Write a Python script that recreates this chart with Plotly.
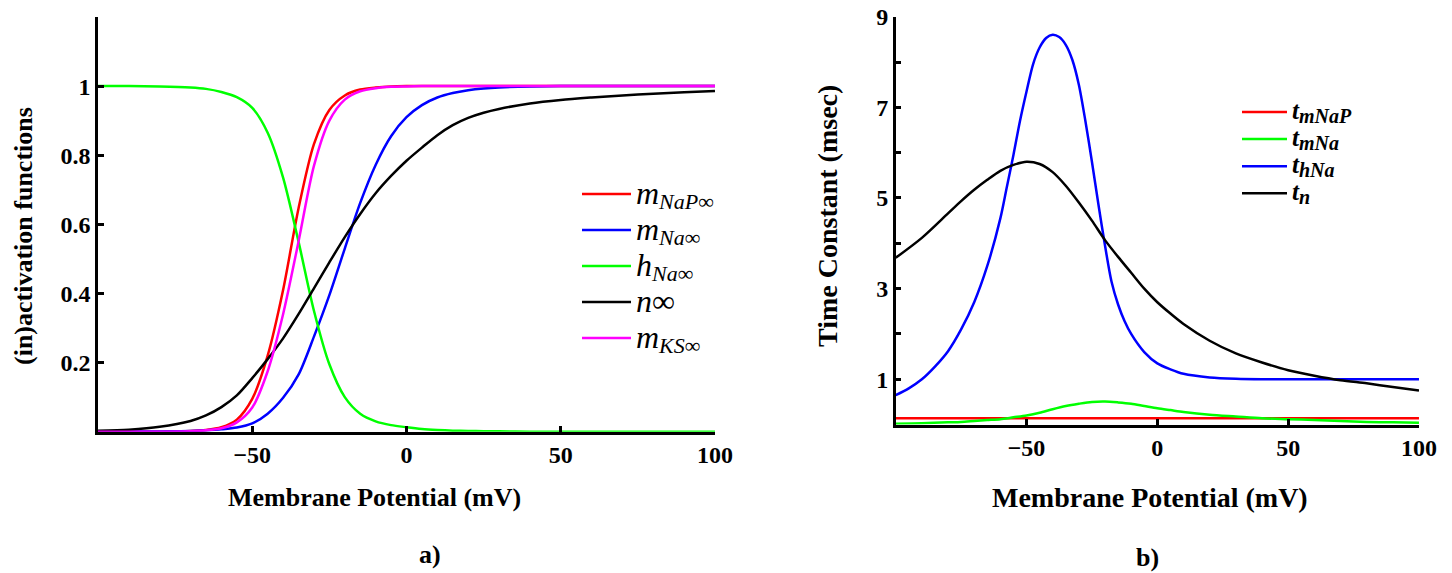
import plotly.graph_objects as go

# ---------------- data: panel a) steady-state (in)activation functions ----------------
V_A = [-100, -90, -80, -70, -65, -60, -55, -50, -45, -40, -35, -30, -25, -20, -15,
       -10, -5, 0, 5, 10, 15, 20, 25, 30, 40, 50, 60, 70, 80, 90, 100]
m_NaP_inf = [0.0, 0.0, 0.0002, 0.002, 0.005, 0.013, 0.035, 0.095, 0.22, 0.41, 0.646, 0.832,
             0.931, 0.973, 0.99, 0.996, 0.999, 1.0, 1.0, 1.0, 1.0, 1.0, 1.0, 1.0, 1.0, 1.0,
             1.0, 1.0, 1.0, 1.0, 1.0]
m_Na_inf = [0.0, 0.0003, 0.0008, 0.002, 0.004, 0.007, 0.012, 0.024, 0.052, 0.098, 0.165,
            0.275, 0.395, 0.53, 0.662, 0.772, 0.855, 0.91, 0.945, 0.967, 0.98, 0.988, 0.993,
            0.996, 0.999, 1.0, 1.0, 1.0, 1.0, 1.0, 1.0]
h_Na_inf = [1.0, 1.0, 0.999, 0.996, 0.992, 0.983, 0.968, 0.937, 0.865, 0.735, 0.55, 0.35,
            0.195, 0.1, 0.052, 0.03, 0.019, 0.013, 0.008, 0.005, 0.003, 0.002, 0.0015, 0.001,
            0.0, 0.0, 0.0, 0.0, 0.0, 0.0, 0.0]
n_inf = [0.003, 0.006, 0.014, 0.031, 0.047, 0.071, 0.105, 0.155, 0.21, 0.27, 0.34, 0.415,
         0.49, 0.563, 0.63, 0.69, 0.74, 0.784, 0.822, 0.858, 0.887, 0.908, 0.923, 0.934,
         0.95, 0.96, 0.967, 0.973, 0.978, 0.982, 0.986]
m_KS_inf = [0.0, 0.0, 0.0002, 0.0015, 0.004, 0.01, 0.027, 0.07, 0.175, 0.34, 0.55, 0.769,
            0.9, 0.961, 0.985, 0.994, 0.998, 0.999, 1.0, 1.0, 1.0, 1.0, 1.0, 1.0, 1.0, 1.0,
            1.0, 1.0, 1.0, 1.0, 1.0]

# ---------------- data: panel b) time constants (msec) ----------------
V_B = [-100, -90, -80, -75, -70, -65, -60, -55, -50, -45, -40, -35, -30, -25, -20, -15,
       -10, -5, 0, 5, 10, 20, 30, 40, 50, 60, 70, 80, 90, 100]
t_mNaP = [0.14] * 30
t_mNa = [0.02, 0.03, 0.05, 0.06, 0.08, 0.1, 0.12, 0.16, 0.2, 0.26, 0.34, 0.41, 0.46, 0.5,
         0.51, 0.49, 0.46, 0.41, 0.36, 0.32, 0.28, 0.22, 0.18, 0.14, 0.12, 0.1, 0.08, 0.06,
         0.05, 0.04]
t_n = [3.68, 4.12, 4.66, 4.93, 5.18, 5.4, 5.6, 5.73, 5.8, 5.75, 5.57, 5.27, 4.9, 4.5, 4.07,
       3.7, 3.35, 3.0, 2.7, 2.45, 2.22, 1.85, 1.57, 1.37, 1.2, 1.08, 0.98, 0.91, 0.83, 0.75]
V_hNa = [-100, -95, -90, -85, -80, -75, -70, -65, -60, -57.5, -55, -52.5, -50, -47.5, -45,
         -42.5, -40, -37.5, -35, -32.5, -30, -27.5, -25, -22.5, -20, -17.5, -15, -12.5, -10,
         -5, 0, 5, 10, 20, 30, 40, 60, 80, 100]
t_hNa = [0.65, 0.8, 1.0, 1.28, 1.62, 2.1, 2.7, 3.5, 4.55, 5.25, 5.95, 6.7, 7.35, 7.95, 8.32,
         8.53, 8.6, 8.55, 8.38, 8.05, 7.5, 6.7, 5.8, 4.85, 3.95, 3.15, 2.65, 2.28, 2.0,
         1.6, 1.35, 1.22, 1.12, 1.04, 1.01, 1.0, 1.0, 1.0, 1.0]

X_TICKS = [-50, 0, 50, 100]
YA_TICKS = [0.2, 0.4, 0.6, 0.8, 1]
YA_TEXT = ["0.2", "0.4", "0.6", "0.8", "1"]
YB_TICKS = [1, 2, 3, 4, 5, 6, 7, 8, 9]
YB_TEXT = ["1", "", "3", "", "5", "", "7", "", "9"]

SERIF = "Liberation Serif, Times New Roman, serif"
W, H = 1452, 573


def PX(x):                    # screen pixel -> paper x
    return x / W


def PY(y):                    # screen pixel -> paper y
    return 1 - y / H


def leg_a(main, sub):
    return ('<span style="font-size:32px"><i>%s</i></span>' % main +
            '<sub><span style="font-size:22px">%s</span></sub>' % sub)


def leg_b(main, sub):
    return ('<span style="font-size:25px"><i>%s</i></span>' % main +
            '<sub><span style="font-size:20px"><i>%s</i></span></sub>' % sub)


fig = go.Figure()

left_series = [
    (m_NaP_inf, "#ff0000", leg_a("m", "<i>NaP</i>∞")),
    (m_Na_inf, "#0000ff", leg_a("m", "<i>Na</i>∞")),
    (h_Na_inf, "#00ff00", leg_a("h", "<i>Na</i>∞")),
    (n_inf, "#000000", '<span style="font-size:32px"><i>n</i>∞</span>'),
    (m_KS_inf, "#ff00ff", leg_a("m", "<i>KS</i>∞")),
]
for ys, col, name in left_series:
    fig.add_trace(go.Scatter(x=V_A, y=ys, mode="lines", name=name,
                             line=dict(color=col, width=2.5, shape="spline", smoothing=0.8),
                             xaxis="x", yaxis="y", legend="legend"))

right_series = [
    (V_B, t_mNaP, "#ff0000", leg_b("t", "mNaP")),
    (V_B, t_mNa, "#00ff00", leg_b("t", "mNa")),
    (V_hNa, t_hNa, "#0000ff", leg_b("t", "hNa")),
    (V_B, t_n, "#000000", leg_b("t", "n")),
]
for xs, ys, col, name in right_series:
    fig.add_trace(go.Scatter(x=xs, y=ys, mode="lines", name=name,
                             line=dict(color=col, width=2.5, shape="spline", smoothing=0.8),
                             xaxis="x2", yaxis="y2", legend="legend2"))

tickfont = dict(family=SERIF, size=24, color="black", weight="bold")
common_x = dict(range=[-100, 100.01], tickvals=X_TICKS, ticks="inside", ticklen=6,
                tickwidth=2.5, showline=True, linewidth=2.5, linecolor="black",
                showgrid=False, zeroline=False, tickfont=tickfont, tickcolor="black",
                ticklabeloverflow="allow")
common_y = dict(ticks="inside", ticklen=6, tickwidth=2.5, showline=True, linewidth=2.5,
                linecolor="black", showgrid=False, zeroline=False, tickfont=tickfont,
                tickcolor="black", ticklabeloverflow="allow")

fig.update_layout(
    width=W, height=H,
    margin=dict(l=0, r=0, t=0, b=0, autoexpand=False),
    paper_bgcolor="white", plot_bgcolor="white",
    xaxis=dict(domain=[PX(98), PX(715)], anchor="y", **common_x),
    yaxis=dict(domain=[PY(431.7), PY(17)], anchor="x", range=[0, 1.2],
               tickvals=YA_TICKS, ticktext=YA_TEXT, **common_y),
    xaxis2=dict(domain=[PX(895.7), PX(1419)], anchor="y2", **common_x),
    yaxis2=dict(domain=[PY(424.6), PY(16.6)], anchor="x2", range=[0, 9.002],
                tickvals=YB_TICKS, ticktext=YB_TEXT, **common_y),
    legend=dict(x=PX(577), y=PY(171), xanchor="left", yanchor="top",
                bgcolor="rgba(0,0,0,0)", itemwidth=49,
                font=dict(family=SERIF, size=25.4, color="black")),
    legend2=dict(x=PX(1237), y=PY(93.5), xanchor="left", yanchor="top",
                 bgcolor="rgba(0,0,0,0)", itemwidth=45,
                 font=dict(family=SERIF, size=18.5, color="black", weight="bold")),
    showlegend=True,
)

title_font_a = dict(family=SERIF, size=26, color="black", weight="bold")
title_font_b = dict(family=SERIF, size=28, color="black", weight="bold")
annos = [
    dict(text="Membrane Potential (mV)", x=PX(374), y=PY(497), font=title_font_a),
    dict(text="Membrane Potential (mV)", x=PX(1150), y=PY(497), font=title_font_b),
    dict(text="(in)activation functions", x=PX(23), y=PY(236), font=title_font_a,
         textangle=-90),
    dict(text="Time Constant (msec)", x=PX(828), y=PY(216), font=title_font_b,
         textangle=-90),
    dict(text="a)", x=PX(430), y=PY(554), font=title_font_a),
    dict(text="b)", x=PX(1147), y=PY(557), font=title_font_a),
]
for a in annos:
    fig.add_annotation(xref="paper", yref="paper", xanchor="center", yanchor="middle",
                       showarrow=False, **a)

fig.write_html("out.html", config={"displayModeBar": False},
               post_script="document.body.style.margin='0px';")
